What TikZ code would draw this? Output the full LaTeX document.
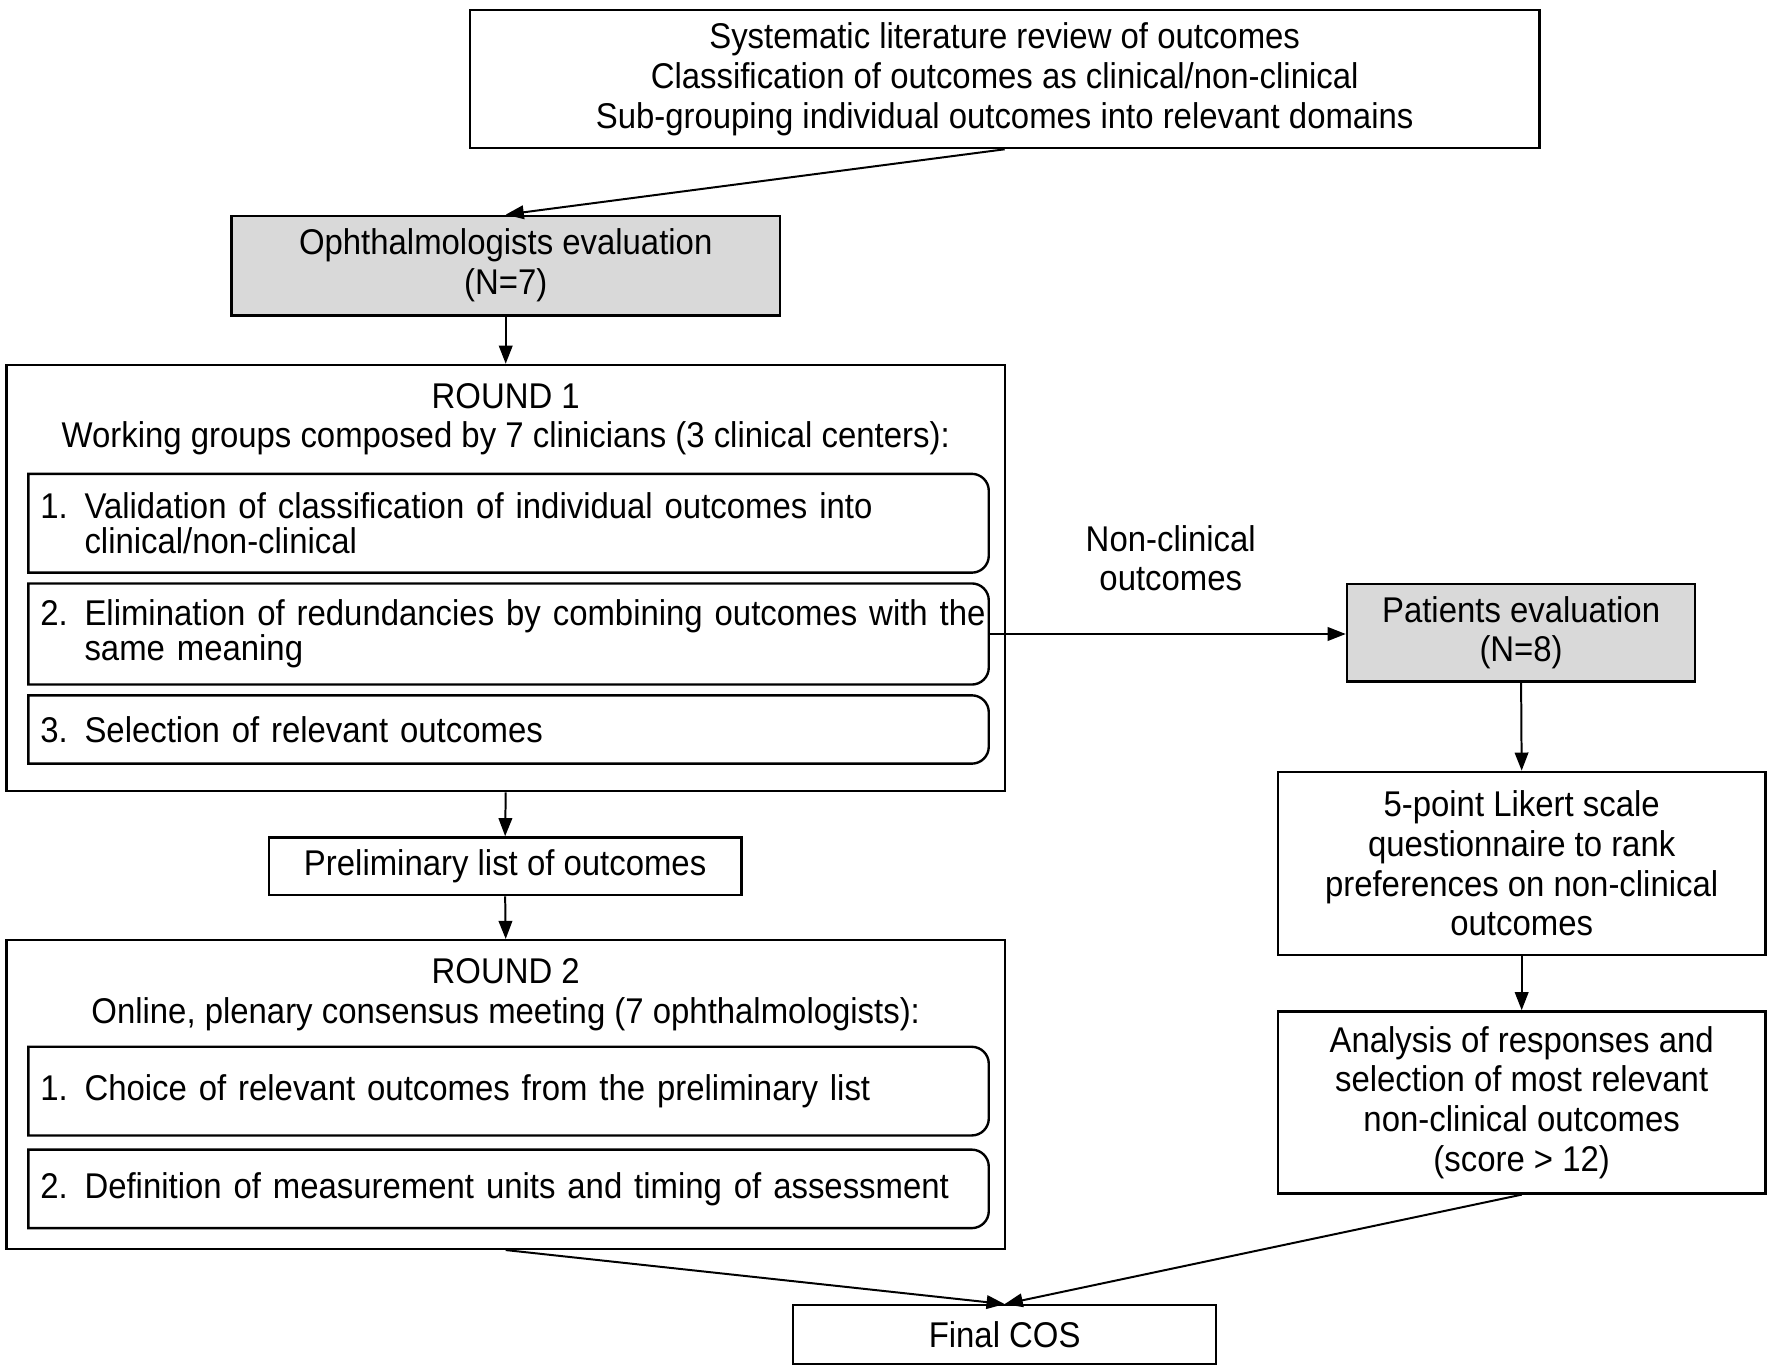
\documentclass[tikz,border=0pt]{standalone}
\usepackage{fontspec}
\setmainfont{Liberation Sans}[FakeStretch=0.92]
\usepackage{tikz}
\usetikzlibrary{
    arrows.meta,
    positioning
}
\tikzset{wbox/.style={draw=black, line width=0.6pt, inner sep=0pt, align=center},
         gbox/.style={wbox, fill=black!15},
         ibox/.style={inner xsep=0.1cm, inner ysep=0pt, text width=8.28cm, align=left, font=\fontsize{9pt}{8.8pt}\selectfont},
         arr/.style={-{Triangle[length=0.16cm, width=0.12cm]}, line width=0.5pt}}
\newcommand{\numit}[2]{\mbox{\makebox[0.39cm][l]{#1}#2}}
\newcommand{\contit}[1]{\mbox{\hspace*{0.39cm}#1}}
\newcommand{\halfround}[1]{\draw[line width=0.6pt] ([xshift=-0.15cm]#1.north east) -- (#1.north west) -- (#1.south west) -- ([xshift=-0.15cm]#1.south east) arc[start angle=-90, end angle=0, radius=0.15cm] -- ([yshift=-0.15cm]#1.north east) arc[start angle=0, end angle=90, radius=0.15cm];}

\begin{document}
\begin{tikzpicture}[x=0.01cm, y=0.01cm, font=\fontsize{9pt}{10pt}\selectfont]
    \useasboundingbox (0,0) rectangle (1568,-1214);

    \node[wbox, minimum width=9.46cm, minimum height=1.22cm] (lit) at (889,-70) {Systematic literature review of outcomes\\Classification of outcomes as clinical/non-clinical\\Sub-grouping individual outcomes into relevant domains};
    \node[gbox, minimum width=4.85cm, minimum height=0.88cm] (oph) at (447.5,-235) {Ophthalmologists evaluation\\(N=7)};

    % round 1
    \node[wbox, minimum width=8.83cm, minimum height=3.77cm] (rd1) at (447.5,-511.5) {};
    \node[align=center] (rd1t) at (447.5,-371) {ROUND 1\\Working groups composed by 7 clinicians (3 clinical centers):};
    \node[ibox, minimum height=0.86cm] (rd1a) at (450,-463) {\numit{1.}{Validation of classification of individual outcomes into}\\\contit{clinical/non-clinical}};
    \node[ibox, minimum height=0.88cm] (rd1b) at (450,-561) {\numit{2.}{Elimination of redundancies by combining outcomes with the}\\\contit{same meaning}};
    \node[ibox, minimum height=0.59cm] (rd1c) at (450,-645.5) {\numit{3.}{Selection of relevant outcomes}};
    \halfround{rd1a}
    \halfround{rd1b}
    \halfround{rd1c}

    \node[wbox, minimum width=4.18cm, minimum height=0.51cm] (pre) at (447,-766.5) {Preliminary list of outcomes};

    % round 2
    \node[wbox, minimum width=8.83cm, minimum height=2.73cm] (rd2) at (447.5,-968.5) {};
    \node[align=center] (rd2t) at (447.5,-880) {ROUND 2\\Online, plenary consensus meeting (7 ophthalmologists):};
    \node[ibox, minimum height=0.77cm] (rd2a) at (450,-965.5) {\numit{1.}{Choice of relevant outcomes from the preliminary list}};
    \node[ibox, minimum height=0.68cm] (rd2b) at (450,-1052) {\numit{2.}{Definition of measurement units and timing of assessment}};
    \halfround{rd2a}
    \halfround{rd2b}

    % patients side
    \node[align=center] (ncl) at (1036,-494) {Non-clinical\\outcomes};
    \node[gbox, minimum width=3.08cm, minimum height=0.86cm] (pat) at (1346,-560) {Patients evaluation\\(N=8)};
    \node[wbox, minimum width=4.31cm, minimum height=1.62cm] (lik) at (1346.5,-764) {5-point Likert scale\\questionnaire to rank\\preferences on non-clinical\\outcomes};
    \node[wbox, minimum width=4.31cm, minimum height=1.61cm] (ana) at (1346.5,-975.5) {Analysis of responses and\\selection of most relevant\\non-clinical outcomes\\(score > 12)};

    \node[wbox, minimum width=3.74cm, minimum height=0.52cm] (fin) at (889,-1181) {Final COS};

    \draw[arr] (lit.south) -- (oph.north);
    \draw[arr] (oph.south) -- (rd1.north);
    \draw[arr] (rd1.south) -- (pre.north);
    \draw[arr] (pre.south) -- (rd2.north);
    \draw[arr] (rd1b.east) -- (rd1b.east -| pat.west);
    \draw[arr] (pat.south) -- (lik.north);
    \draw[arr] (lik.south) -- (ana.north);
    \draw[arr] (rd2.south) -- (fin.north);
    \draw[arr] (ana.south) -- (fin.north);
\end{tikzpicture}
\end{document}
